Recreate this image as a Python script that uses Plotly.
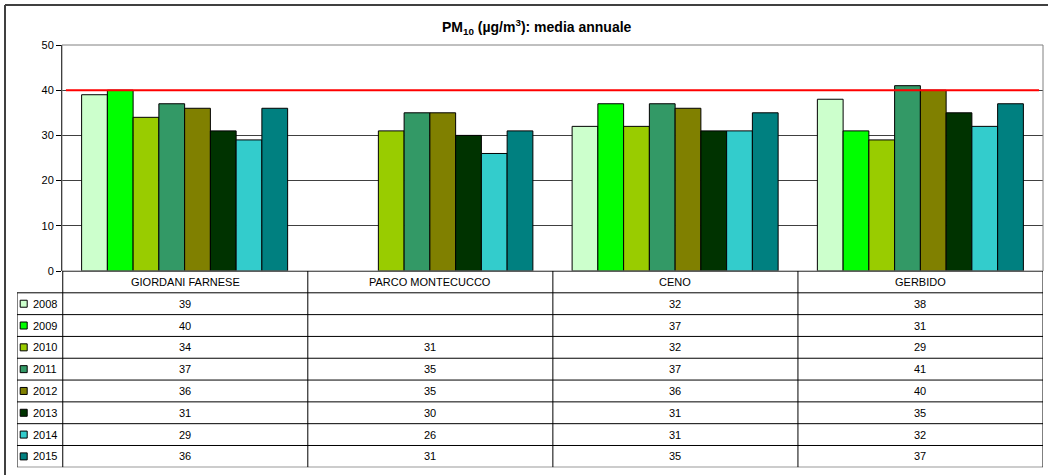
import plotly.graph_objects as go

# PM10 annual mean by station and year
STATIONS = ["GIORDANI FARNESE", "PARCO MONTECUCCO", "CENO", "GERBIDO"]
YEARS = ["2008", "2009", "2010", "2011", "2012", "2013", "2014", "2015"]
V2008 = [39, None, 32, 38]
V2009 = [40, None, 37, 31]
V2010 = [34, 31, 32, 29]
V2011 = [37, 35, 37, 41]
V2012 = [36, 35, 36, 40]
V2013 = [31, 30, 31, 35]
V2014 = [29, 26, 31, 32]
V2015 = [36, 31, 35, 37]
LIMIT = 40
Y_TICKS = [0, 10, 20, 30, 40, 50]

SERIES = [V2008, V2009, V2010, V2011, V2012, V2013, V2014, V2015]
COLORS = ["#ccffcc", "#00ff00", "#99cc00", "#339966",
          "#808000", "#003300", "#33cccc", "#008080"]

W, H = 1048, 475
FONT = "Liberation Sans, Arial, sans-serif"


def px(x):
    return x / W


def py(y):
    return 1 - y / H


# table geometry (x2 units = one station column)
COL_PX = (1043 - 62.75) / 4
X2_LO = -0.5 - (62.75 - 17) / COL_PX
KEY_X = -0.5 - (62.75 - 23.7) / COL_PX
KEY_TXT_X = -0.5 - (62.75 - 31) / COL_PX

fig = go.Figure()

for yr, vals, col in zip(YEARS, SERIES, COLORS):
    fig.add_trace(go.Bar(
        x=STATIONS, y=vals, name=yr,
        marker=dict(color=col, line=dict(color="#000000", width=1)),
        xaxis="x", yaxis="y",
    ))

# legend keys inside the data table
fig.add_trace(go.Scatter(
    x=[KEY_X] * len(YEARS), y=list(range(1, len(YEARS) + 1)),
    mode="markers", xaxis="x2", yaxis="y2",
    marker=dict(symbol="square", size=7, color=COLORS,
                line=dict(color="#000000", width=1)),
    hoverinfo="skip",
))

shapes = []
ln = dict(color="#000000", width=1)
# plot area border (top / right, grey)
shapes.append(dict(type="rect", xref="x domain", yref="y domain",
                   x0=0, x1=1, y0=0, y1=1, line=dict(color="#808080", width=1)))
# limit line
shapes.append(dict(type="line", xref="x domain", yref="y", x0=0.004, x1=0.996,
                   y0=LIMIT, y1=LIMIT, line=dict(color="#ff0000", width=2)))
# table: horizontal lines
nrows = len(YEARS)
shapes.append(dict(type="line", xref="x2", yref="y2", x0=-0.5, x1=3.5,
                   y0=-0.5, y1=-0.5, line=ln))
for r in range(nrows + 1):
    shapes.append(dict(type="line", xref="x2", yref="y2", x0=X2_LO, x1=3.5,
                       y0=r + 0.5, y1=r + 0.5, line=ln))
# table: vertical lines
for c in range(len(STATIONS) + 1):
    shapes.append(dict(type="line", xref="x2", yref="y2", x0=c - 0.5, x1=c - 0.5,
                       y0=-0.5, y1=nrows + 0.5, line=ln))
shapes.append(dict(type="line", xref="x2", yref="y2", x0=X2_LO, x1=X2_LO,
                   y0=0.5, y1=nrows + 0.5, line=ln))
# outer chart frame (only top and left edges fall inside the picture)
frame = dict(color="#404040", width=2)
shapes.append(dict(type="line", xref="paper", yref="paper",
                   x0=px(5), x1=1, y0=py(5), y1=py(5), line=frame))
shapes.append(dict(type="line", xref="paper", yref="paper",
                   x0=px(5), x1=px(5), y0=py(5), y1=0, line=frame))

ann = []
tf = dict(family=FONT, size=11, color="#000000")
for c, st in enumerate(STATIONS):
    ann.append(dict(x=c, y=0, xref="x2", yref="y2", text=st, showarrow=False,
                    font=tf))
for r, (yr, vals) in enumerate(zip(YEARS, SERIES), start=1):
    ann.append(dict(x=KEY_TXT_X, y=r, xref="x2", yref="y2", text=yr,
                    showarrow=False, xanchor="left", font=tf))
    for c, v in enumerate(vals):
        if v is not None:
            ann.append(dict(x=c, y=r, xref="x2", yref="y2", text=str(v),
                            showarrow=False, font=tf))
ann.append(dict(x=px(537), y=py(27), xref="paper", yref="paper",
                xanchor="center", yanchor="middle",
                text="<b>PM<sub>10</sub> (µg/m<sup>3</sup>): media annuale</b>",
                showarrow=False, font=dict(family=FONT, size=14, color="#000000")))

fig.update_layout(
    width=W, height=H,
    margin=dict(l=0, r=0, t=0, b=0, pad=0, autoexpand=False),
    paper_bgcolor="#ffffff", plot_bgcolor="#ffffff",
    font=dict(family=FONT, size=11, color="#000000"),
    barmode="group", bargap=0.16, bargroupgap=0,
    showlegend=False,
    shapes=shapes, annotations=ann,
    xaxis=dict(domain=[px(62), px(1043)], range=[-0.5, 3.5],
               showticklabels=False, ticks="", showgrid=False, zeroline=False,
               showline=False),
    yaxis=dict(domain=[py(271), py(45)], range=[0, 50], tickvals=Y_TICKS,
               showgrid=True, gridcolor="#404040", gridwidth=1, zeroline=False,
               showline=True, linecolor="#000000", linewidth=1,
               ticks="outside", ticklen=5, tickcolor="#000000",
               tickfont=dict(family=FONT, size=11, color="#000000")),
    xaxis2=dict(domain=[px(17), px(1043)], range=[X2_LO, 3.5], visible=False,
                anchor="y2"),
    yaxis2=dict(domain=[py(467.3), py(271)], range=[nrows + 0.5, -0.5],
                visible=False, anchor="x2"),
)

# page body has a default 8px margin; drop it so the figure sits at 0,0
fig.write_html("out.html", config={"displayModeBar": False},
               post_script="document.body.style.margin='0';")
